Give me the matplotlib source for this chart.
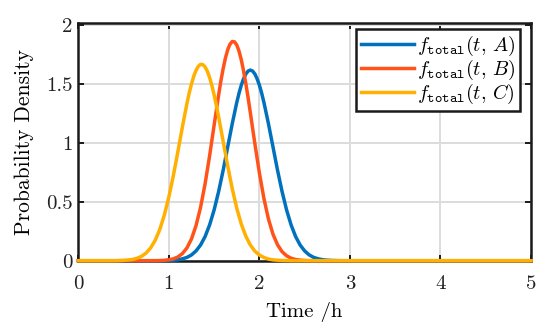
import matplotlib
matplotlib.use("Agg")
import matplotlib.pyplot as plt

plt.rcParams['font.family'] = 'serif'
plt.rcParams['font.serif'] = ['cmr10']
plt.rcParams['mathtext.fontset'] = 'cm'
plt.rcParams['axes.formatter.use_mathtext'] = True

# ---- data ----
time_A = [0.0, 0.95, 1.00, 1.05, 1.10, 1.15, 1.20, 1.25, 1.30, 1.35, 1.40, 1.45,
          1.50, 1.55, 1.60, 1.65, 1.70, 1.75, 1.775, 1.80, 1.825, 1.85, 1.875,
          1.90, 1.925, 1.95, 1.975, 2.00, 2.025, 2.05, 2.10, 2.15, 2.20, 2.25,
          2.30, 2.35, 2.40, 2.45, 2.50, 2.55, 2.60, 2.65, 2.70, 2.75, 2.80,
          2.85, 2.90, 5.0]
density_A = [0.0, 0.0, 0.002, 0.004, 0.008, 0.016, 0.028, 0.049, 0.083, 0.133, 0.205, 0.304,
             0.432, 0.589, 0.770, 0.967, 1.164, 1.345, 1.424, 1.492, 1.546, 1.587, 1.612,
             1.620, 1.612, 1.587, 1.546, 1.492, 1.424, 1.345, 1.164, 0.967, 0.770, 0.589,
             0.432, 0.304, 0.205, 0.133, 0.083, 0.049, 0.028, 0.016, 0.008, 0.004, 0.002,
             0.001, 0.0, 0.0]

time_B = [0.0, 0.85, 0.90, 0.95, 1.00, 1.05, 1.10, 1.15, 1.20, 1.25, 1.30, 1.35,
          1.40, 1.45, 1.50, 1.55, 1.575, 1.60, 1.625, 1.65, 1.675, 1.70, 1.725,
          1.75, 1.775, 1.80, 1.825, 1.85, 1.875, 1.90, 1.95, 2.00, 2.05, 2.10,
          2.15, 2.20, 2.25, 2.30, 2.35, 2.40, 2.45, 2.50, 2.55, 2.60, 5.0]
density_B = [0.0, 0.0, 0.001, 0.003, 0.008, 0.016, 0.032, 0.061, 0.109, 0.185, 0.298, 0.453,
             0.653, 0.891, 1.153, 1.410, 1.529, 1.634, 1.723, 1.793, 1.840, 1.863, 1.860,
             1.833, 1.781, 1.707, 1.614, 1.506, 1.386, 1.257, 0.994, 0.745, 0.528, 0.354,
             0.225, 0.136, 0.077, 0.042, 0.021, 0.010, 0.005, 0.002, 0.001, 0.0, 0.0]

time_C = [0.0, 0.40, 0.45, 0.50, 0.55, 0.60, 0.65, 0.70, 0.75, 0.80, 0.85, 0.90,
          0.95, 1.00, 1.05, 1.10, 1.15, 1.20, 1.225, 1.25, 1.275, 1.30, 1.325,
          1.35, 1.375, 1.40, 1.425, 1.45, 1.475, 1.50, 1.525, 1.55, 1.60, 1.65,
          1.70, 1.75, 1.80, 1.85, 1.90, 1.95, 2.00, 2.05, 2.10, 2.15, 2.20,
          2.25, 2.30, 2.35, 5.0]
density_C = [0.0, 0.0, 0.001, 0.003, 0.006, 0.011, 0.021, 0.038, 0.066, 0.110, 0.175, 0.266,
             0.388, 0.542, 0.725, 0.929, 1.139, 1.338, 1.426, 1.503, 1.568, 1.618, 1.652,
             1.669, 1.667, 1.647, 1.610, 1.557, 1.489, 1.409, 1.318, 1.221, 1.013, 0.805,
             0.612, 0.446, 0.311, 0.208, 0.133, 0.081, 0.048, 0.027, 0.014, 0.007, 0.004,
             0.002, 0.001, 0.0, 0.0]

labels = [r'$f_{\mathtt{total}}(t,\,A)$', r'$f_{\mathtt{total}}(t,\,B)$', r'$f_{\mathtt{total}}(t,\,C)$']
colors = ['#0072BD', '#FF5319', '#FFB000']

x_ticks = [0, 1, 2, 3, 4, 5]
y_ticks = [0, 0.5, 1, 1.5, 2]
y_tick_labels = ['0', '0.5', '1', '1.5', '2']

fig = plt.figure(figsize=(5.5, 3.29), dpi=100)
ax = fig.add_axes([0.1424, 0.2076, 0.8231, 0.7224])

series = [(time_A, density_A), (time_B, density_B), (time_C, density_C)]
for (t, d), lab, c in zip(series, labels, colors):
    ax.plot(t, d, color=c, lw=2.5, label=lab, zorder=3, clip_on=False)

ax.set_xlim(0, 5)
ax.set_ylim(0, 2.02)
ax.set_xticks(x_ticks)
ax.set_xticklabels([str(v) for v in x_ticks])
ax.set_yticks(y_ticks)
ax.set_yticklabels(y_tick_labels)
ax.grid(True, color='#DCDCDC', lw=1.4)
ax.set_axisbelow(True)
for s in ax.spines.values():
    s.set_linewidth(1.8)
    s.set_color('#1a1a1a')
ax.tick_params(direction='in', length=4, width=1.4, top=True, right=True,
               labelsize=15, colors='#1a1a1a', labelcolor='#222222')
ax.tick_params(axis='x', pad=10)
ax.tick_params(axis='y', pad=4)
ax.set_xlabel('Time /h', fontsize=15, labelpad=7)
ax.set_ylabel('Probability Density', fontsize=15.5, labelpad=9)

leg = ax.legend(loc='upper right', bbox_to_anchor=(0.9757, 0.9748), fontsize=14.5,
                frameon=True, fancybox=False, borderpad=0.25, labelspacing=0.0,
                handlelength=2.6, handletextpad=0.15, borderaxespad=0.0)
leg.get_frame().set_edgecolor('#1a1a1a')
leg.get_frame().set_linewidth(1.8)
leg.get_frame().set_alpha(1)
leg.set_zorder(5)

fig.savefig('out.png', dpi=100)
